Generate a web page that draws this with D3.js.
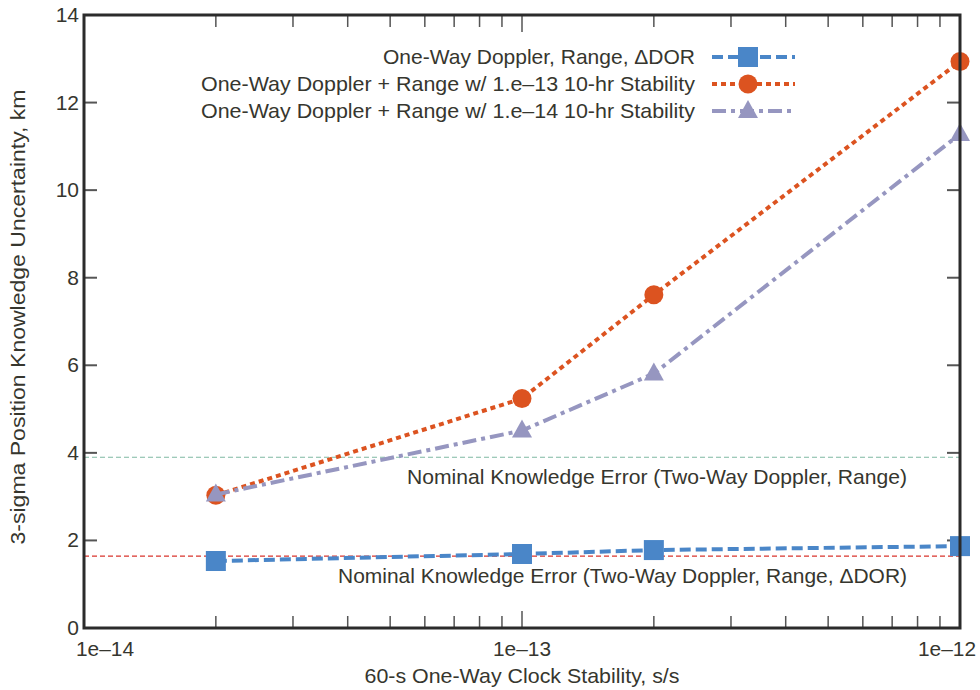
<!DOCTYPE html>
<html><head><meta charset="utf-8">
<script src="https://cdn.jsdelivr.net/npm/d3@7"></script>
<style>body{margin:0;background:#fff}text{font-family:"Liberation Sans",Arial,sans-serif;fill:#36362e}</style>
</head><body><svg id="c" width="980" height="690"></svg>
<script>
const xValues = [2e-14, 1e-13, 2e-13, 1e-12];
const seriesNames = ["One-Way Doppler, Range, \u0394DOR","One-Way Doppler + Range w/ 1.e\u201313 10-hr Stability","One-Way Doppler + Range w/ 1.e\u201314 10-hr Stability"];
const dorValues = [1.53, 1.69, 1.78, 1.87];
const e13Values = [3.03, 5.24, 7.61, 12.94];
const e14Values = [3.05, 4.51, 5.81, 11.28];
const nominalLevels = [3.9, 1.64];
const nominalLabels = ["Nominal Knowledge Error (Two-Way Doppler, Range)","Nominal Knowledge Error (Two-Way Doppler, Range, \u0394DOR)"];
const yTicks = [0,2,4,6,8,10,12,14];
const xTickLabels = ["1e\u201314","1e\u201313","1e\u201312"];
const xMajor = [1e-14,1e-13,1e-12];

const svg = d3.select("#c");
const L=84,R=960,T=15,B=628;
const FS=21;
const x = d3.scaleLog().domain([1e-14,1e-12]).range([L,R]);
const y = d3.scaleLinear().domain([0,14]).range([B,T]);

function txt(xp,yp,s,anchor,len){
  const t=svg.append("text").attr("x",xp).attr("y",yp).attr("text-anchor",anchor).attr("font-size",FS).text(s);
  if(len) t.attr("textLength",len).attr("lengthAdjust","spacingAndGlyphs");
  return t;
}

// minor ticks
const minor=[];
for(let d=-14; d<-12; d++) for(let m=2;m<=9;m++) minor.push(m*Math.pow(10,d));
const tickCol="#555";
minor.forEach(v=>{
  svg.append("line").attr("x1",x(v)).attr("x2",x(v)).attr("y1",B).attr("y2",B-12).attr("stroke",tickCol).attr("stroke-width",1.5);
  svg.append("line").attr("x1",x(v)).attr("x2",x(v)).attr("y1",T).attr("y2",T+12).attr("stroke",tickCol).attr("stroke-width",1.5);
});
[1e-13].forEach(v=>{
  svg.append("line").attr("x1",x(v)).attr("x2",x(v)).attr("y1",B).attr("y2",B-17).attr("stroke",tickCol).attr("stroke-width",1.5);
  svg.append("line").attr("x1",x(v)).attr("x2",x(v)).attr("y1",T).attr("y2",T+17).attr("stroke",tickCol).attr("stroke-width",1.5);
});
yTicks.slice(1,-1).forEach(v=>{
  svg.append("line").attr("x1",L).attr("x2",L+13).attr("y1",y(v)).attr("y2",y(v)).attr("stroke",tickCol).attr("stroke-width",2);
  svg.append("line").attr("x1",R).attr("x2",R-13).attr("y1",y(v)).attr("y2",y(v)).attr("stroke",tickCol).attr("stroke-width",2);
});
// labels
yTicks.forEach(v=>txt(79,y(v)+7,v,"end"));
txt(76,656,xTickLabels[0],"start",58);
txt(x(xMajor[1]),656,xTickLabels[1],"middle",58);
txt(976,656,xTickLabels[2],"end",58);
txt(522,683,"60-s One-Way Clock Stability, s/s","middle",315);
svg.append("text").attr("transform","translate(25,317) rotate(-90)").attr("text-anchor","middle").attr("font-size",FS)
  .attr("textLength",455).attr("lengthAdjust","spacingAndGlyphs").text("3-sigma Position Knowledge Uncertainty, km");

// nominal lines
const nomCols=["#7fb9a3","#d9352c"];
nominalLevels.forEach((v,i)=>{
  svg.append("line").attr("x1",L).attr("x2",R).attr("y1",y(v)).attr("y2",y(v)).attr("stroke",nomCols[i]).attr("stroke-width",1.2).attr("stroke-dasharray","5,3");
});
txt(907,y(nominalLevels[0])+27,nominalLabels[0],"end",500);
txt(907,y(nominalLevels[1])+27,nominalLabels[1],"end",569);

const cols=["#4a86c8","#dc5320","#9696c0"];
const dashes=["11,5","5,4","14,5,4,5"];
const all=[dorValues,e13Values,e14Values];
const line=d3.line().x((d,i)=>x(xValues[i])).y(d=>y(d));
function marker(g,k,cx,cy){
  if(k===0) g.append("rect").attr("x",cx-10).attr("y",cy-10).attr("width",20).attr("height",20).attr("fill",cols[0]);
  else if(k===1) g.append("circle").attr("cx",cx).attr("cy",cy).attr("r",9.5).attr("fill",cols[1]);
  else g.append("path").attr("d",`M${cx},${cy-11}L${cx+10},${cy+7}L${cx-10},${cy+7}Z`).attr("fill",cols[2]);
}
[1,2,0].forEach(k=>{
  svg.append("path").attr("d",line(all[k])).attr("fill","none").attr("stroke",cols[k]).attr("stroke-width",4).attr("stroke-dasharray",dashes[k]);
  all[k].forEach((v,i)=>marker(svg,k,x(xValues[i]),y(v)));
});

// frame
svg.append("rect").attr("x",L).attr("y",T).attr("width",R-L).attr("height",B-T).attr("fill","none").attr("stroke","#2b2b2b").attr("stroke-width",3);

// legend
const ly=[57,84,111];
const lw=[312,494,494];
seriesNames.forEach((n,k)=>{
  txt(695,ly[k]+7,n,"end",lw[k]);
  svg.append("line").attr("x1",712).attr("x2",795).attr("y1",ly[k]).attr("y2",ly[k]).attr("stroke",cols[k]).attr("stroke-width",4).attr("stroke-dasharray",dashes[k]);
  marker(svg,k,748,ly[k]);
});
</script></body></html>
